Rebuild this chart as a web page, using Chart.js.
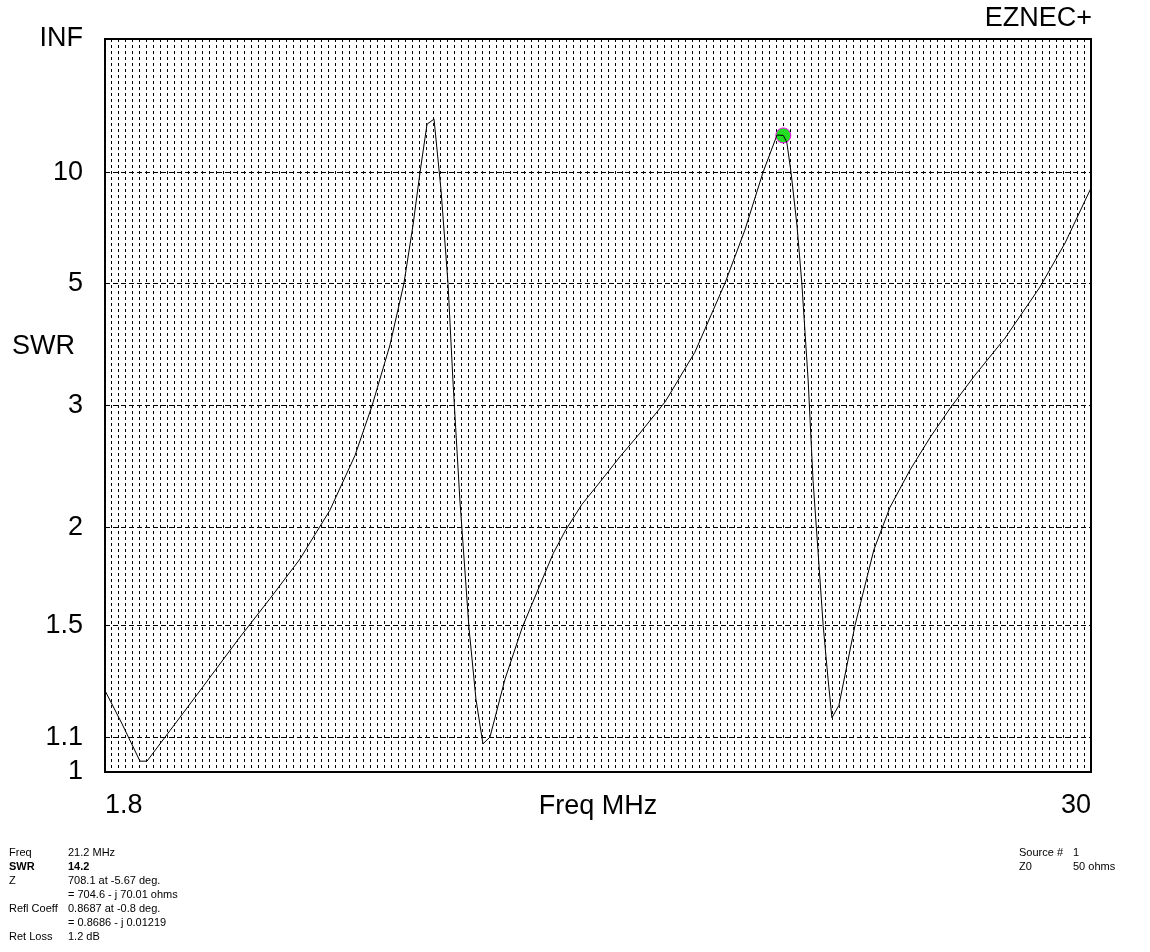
<!DOCTYPE html>
<html>
<head>
<meta charset="utf-8">
<script src="https://cdn.jsdelivr.net/npm/chart.js@4.4.1/dist/chart.umd.min.js"></script>
<style>
html,body{margin:0;padding:0;background:#fff;}
#wrap{position:relative;width:1150px;height:952px;overflow:hidden;background:#fff;}
#c{position:absolute;left:0;top:0;}
.lbl{position:absolute;font-family:"Liberation Sans",Arial,sans-serif;color:#000;white-space:nowrap;}
.big{font-size:27px;line-height:27px;}
.info{font-size:11px;line-height:14px;}
.info div{height:14px;}
.b{font-weight:bold;}
</style>
</head>
<body>
<div id="wrap">
  <canvas id="c" width="1150" height="952"></canvas>
  <div class="lbl big" style="right:58px;top:4px;">EZNEC+</div>
  <div class="lbl big" style="left:12px;top:332px;">SWR</div>
  <div class="lbl big" style="left:598px;top:792px;transform:translateX(-50%);">Freq MHz</div>
  <div class="lbl info" style="left:9px;top:845px;">
    <div>Freq</div><div class="b">SWR</div><div>Z</div><div>&nbsp;</div><div>Refl Coeff</div><div>&nbsp;</div><div>Ret Loss</div>
  </div>
  <div class="lbl info" style="left:68px;top:845px;">
    <div>21.2 MHz</div><div class="b">14.2</div><div>708.1 at -5.67 deg.</div><div>= 704.6 - j 70.01 ohms</div><div>0.8687 at -0.8 deg.</div><div>= 0.8686 - j 0.01219</div><div>1.2 dB</div>
  </div>
  <div class="lbl info" style="left:1019px;top:845px;">
    <div>Source #</div><div>Z0</div>
  </div>
  <div class="lbl info" style="left:1073px;top:845px;">
    <div>1</div><div>50 ohms</div>
  </div>
</div>
<script>
// ---- data ----
const freqMHz = [
  1.80, 2.29, 2.80, 3.00, 3.66, 4.52, 5.60, 6.52, 7.38, 7.81, 8.23, 8.95, 9.44, 9.95, 10.35, 10.61, 10.81,
  11.01, 11.21, 11.41, 11.61, 11.75, 11.95, 12.21, 12.41, 12.61, 12.81, 13.24, 13.73, 14.30, 14.62, 14.96,
  15.44, 15.96, 16.53, 17.10, 17.82, 18.67, 19.53, 20.10, 20.62, 21.02, 21.20, 21.30, 21.42, 21.59, 21.73, 21.91,
  22.05, 22.19, 22.34, 22.48, 22.59, 22.79, 23.25, 23.79, 24.25, 24.82, 25.40, 25.97, 26.68, 27.54, 28.54,
  29.26, 30.00
];
const swrValues = [
  1.25, 1.14, 1.03, 1.03, 1.12, 1.25, 1.44, 1.62, 1.82, 1.96, 2.11, 2.52, 3.00, 3.79, 5.00, 6.88, 10.0,
  16.2, 17.3, 8.71, 5.00, 3.30, 2.18, 1.49, 1.22, 1.08, 1.10, 1.29, 1.49, 1.71, 1.85, 1.98,
  2.15, 2.31, 2.51, 2.72, 3.04, 3.68, 5.00, 6.67, 10.0, 14.27, 14.2, 13.2, 10.0, 6.88, 5.00, 3.30,
  2.32, 1.87, 1.50, 1.29, 1.16, 1.20, 1.50, 1.87, 2.13, 2.40, 2.68, 2.97, 3.36, 3.90, 4.91,
  6.19, 8.84
];
const markerFreq = [21.2];
const markerSwr = [14.2];
const swrTickValues = [1, 1.1, 1.5, 2, 3, 5, 10, Infinity];
const swrTickLabels = ['1', '1.1', '1.5', '2', '3', '5', '10', 'INF'];
const freqMin = 1.8;
const freqMax = 30;
const freqGridStep = 0.2;
const freqTickLabels = ['1.8', '30'];

// SWR axis is linear in reflection coefficient |rho| = (SWR-1)/(SWR+1)
function rho(s) { return isFinite(s) ? (s - 1) / (s + 1) : 1; }

const curve = freqMHz.map((f, i) => ({ x: f, y: rho(swrValues[i]) }));
const marker = markerFreq.map((f, i) => ({ x: f, y: rho(markerSwr[i]) }));

const frame = {
  id: 'frame',
  afterDatasetsDraw(chart) {
    const a = chart.chartArea, ctx = chart.ctx;
    ctx.save();
    ctx.strokeStyle = '#000';
    ctx.lineWidth = 2;
    ctx.strokeRect(a.left, a.top, a.right - a.left, a.bottom - a.top);
    ctx.restore();
  }
};

const font27 = { family: '"Liberation Sans", Arial, sans-serif', size: 27 };

new Chart(document.getElementById('c'), {
  type: 'scatter',
  data: {
    datasets: [
      { data: curve, showLine: true, borderColor: '#000', borderWidth: 1, pointRadius: 0, tension: 0, fill: false },
      { data: marker, showLine: false, pointRadius: 7.5, pointBackgroundColor: '#22dd22', pointBorderColor: '#ff00ff', pointBorderWidth: 1 }
    ]
  },
  options: {
    responsive: false,
    animation: false,
    devicePixelRatio: 1,
    layout: { padding: { top: 39, right: 59, left: 0, bottom: 120 } },
    plugins: { legend: { display: false }, tooltip: { enabled: false }, title: { display: false } },
    scales: {
      x: {
        type: 'linear', min: freqMin, max: freqMax,
        afterBuildTicks(s) {
          const n = Math.round((freqMax - freqMin) / freqGridStep);
          const t = [];
          for (let i = 0; i <= n; i++) t.push({ value: freqMin + i * freqGridStep });
          s.ticks = t;
        },
        afterFit(s) { s.height = 60; },
        ticks: {
          autoSkip: false, maxRotation: 0, minRotation: 0, align: 'inner', padding: 17,
          color: '#000', font: font27,
          callback(v, i, t) { return i === 0 ? freqTickLabels[0] : (i === t.length - 1 ? freqTickLabels[1] : ''); }
        },
        grid: { color: '#000', lineWidth: 1, drawTicks: false },
        border: { display: false, dash: [3, 3] }
      },
      y: {
        type: 'linear', min: 0, max: 1,
        afterBuildTicks(s) { s.ticks = swrTickValues.map(v => ({ value: rho(v) })); },
        afterFit(s) { s.width = 105; },
        ticks: {
          autoSkip: false, padding: 22, color: '#000', font: font27,
          callback(v, i) { return swrTickLabels[i]; }
        },
        grid: { color: '#000', lineWidth: 1, drawTicks: false },
        border: { display: false, dash: [5, 3] }
      }
    }
  },
  plugins: [frame]
});
</script>
</body>
</html>
